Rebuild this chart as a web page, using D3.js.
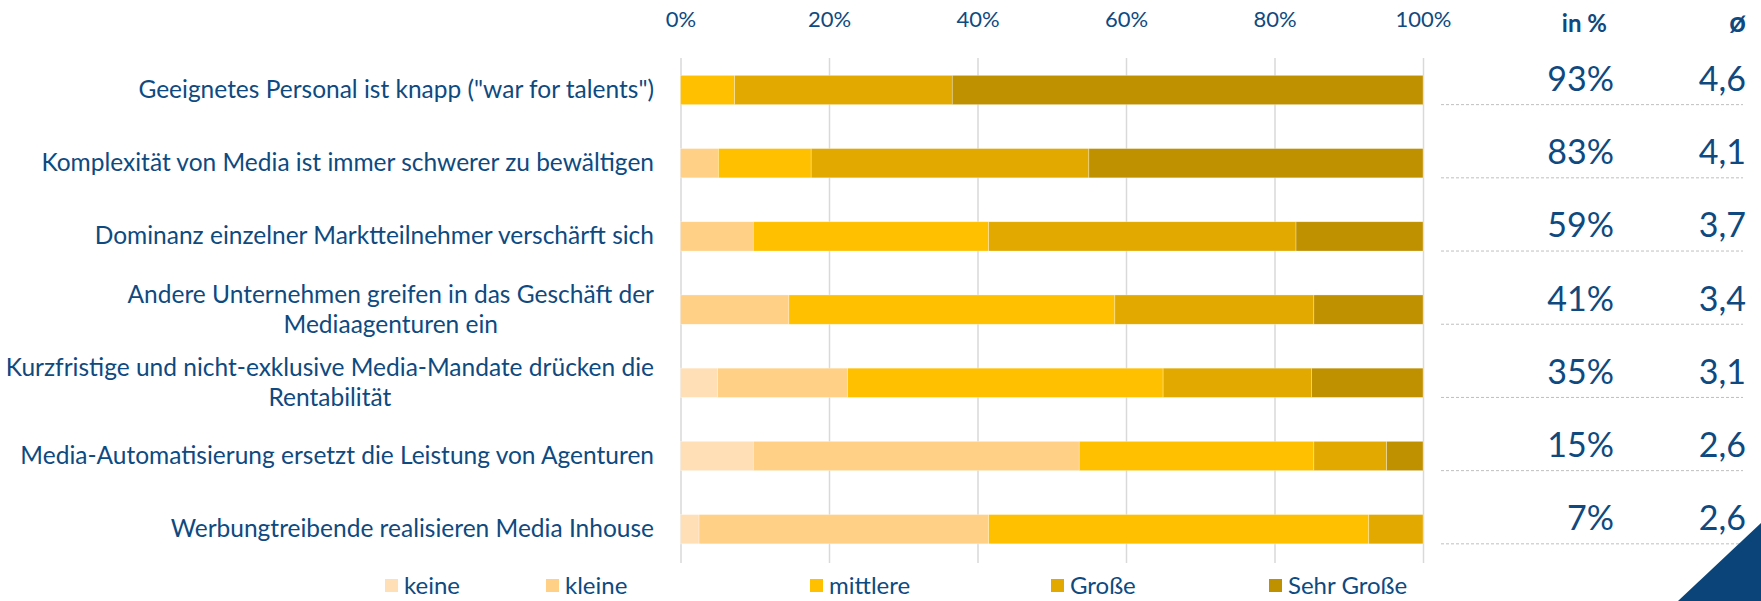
<!DOCTYPE html>
<html>
<head>
<meta charset="utf-8">
<script src="https://cdn.jsdelivr.net/npm/d3@7"></script>
<style>
  body { margin: 0; background: #fff; }
  svg { display: block; font-family: Lato, "Open Sans", sans-serif; }
</style>
</head>
<body>
<svg id="chart" width="1761" height="601"></svg>
<script>
var categories = [
  'Geeignetes Personal ist knapp ("war for talents")',
  "Komplexität von Media ist immer schwerer zu bewältigen",
  "Dominanz einzelner Marktteilnehmer verschärft sich",
  "Andere Unternehmen greifen in das Geschäft der|Mediaagenturen ein",
  "Kurzfristige und nicht-exklusive Media-Mandate drücken die|Rentabilität",
  "Media-Automatisierung ersetzt die Leistung von Agenturen",
  "Werbungtreibende realisieren Media Inhouse"
];

var seriesNames = ["keine", "kleine", "mittlere", "Große", "Sehr Große"];

// share of answers in % per category
var keine      = [0,    0,    0,    0,    5.0,  9.8,  2.5];
var kleine     = [0,    5.1,  9.8,  14.6, 17.5, 43.9, 39.0];
var mittlere   = [7.3,  12.5, 31.7, 43.9, 42.5, 31.6, 51.2];
var grosse     = [29.3, 37.4, 41.4, 26.8, 20.0, 9.8,  7.3];
var sehrGrosse = [63.4, 45.0, 17.1, 14.7, 15.0, 4.9,  0];

var topTwo  = [93, 83, 59, 41, 35, 15, 7];
var average = [4.6, 4.1, 3.7, 3.4, 3.1, 2.6, 2.6];

var xTicks = [0, 20, 40, 60, 80, 100];

var colors = ["#FFDFB5", "#FFD085", "#FFC000", "#E2AA00", "#BF9000"];
var textColor = "#0E4A80";

var svg = d3.select("#chart");

var data = categories.map(function (c, i) {
  return {
    cat: c,
    "keine": keine[i],
    "kleine": kleine[i],
    "mittlere": mittlere[i],
    "Große": grosse[i],
    "Sehr Große": sehrGrosse[i]
  };
});

var gridTop = 58, gridBottom = 563;

var x = d3.scaleLinear().domain([0, 100]).range([680.5, 1423]);
var y = d3.scaleBand().domain(categories).range([53.4, 565.8])
  .paddingInner(0.6).paddingOuter(0.3);
var z = d3.scaleOrdinal().domain(seriesNames).range(colors);

// axis + gridlines
var ax = svg.append("g")
  .attr("transform", "translate(0," + gridTop + ")")
  .call(d3.axisTop(x).tickValues(xTicks)
    .tickFormat(function (d) { return d + "%"; })
    .tickSize(-(gridBottom - gridTop))
    .tickPadding(31));
ax.select(".domain").remove();
ax.selectAll("line").attr("stroke", "#D9D9D9").attr("stroke-width", 1.5);
ax.selectAll("text")
  .attr("fill", textColor)
  .style("font-size", "22px")
  .style("font-family", "Lato, sans-serif");

// stacked bars
svg.append("g")
  .selectAll("g")
  .data(d3.stack().keys(seriesNames)(data))
  .enter()
  .append("g")
  .attr("fill", function (d) { return z(d.key); })
  .selectAll("rect")
  .data(function (d) { return d; })
  .enter()
  .append("rect")
  .attr("x", function (d) { return x(d[0]); })
  .attr("y", function (d) { return y(d.data.cat); })
  .attr("width", function (d) { return Math.max(0, x(d[1]) - x(d[0])); })
  .attr("height", y.bandwidth())
  .attr("stroke", "rgba(255,255,255,0.5)")
  .attr("stroke-width", 0.6);

// category labels (multi-line centered as a block, block right aligned)
var labelRight = 654;
var labels = svg.append("g")
  .attr("fill", textColor)
  .style("font-size", "24.5px");

categories.forEach(function (c) {
  var lines = c.split("|");
  var cy = y(c) + y.bandwidth() / 2;
  var t = labels.append("text").attr("text-anchor", "middle");
  lines.forEach(function (l, j) {
    t.append("tspan")
      .attr("y", cy + 8 + (j - (lines.length - 1) / 2) * 30)
      .text(l);
  });
  var w = 0;
  t.selectAll("tspan").each(function () {
    w = Math.max(w, this.getComputedTextLength());
  });
  t.selectAll("tspan").attr("x", labelRight - w / 2);
});

// right columns
var pctRight = 1614, avgRight = 1746;
var right = svg.append("g").attr("fill", textColor);

right.append("text")
  .attr("x", 1607).attr("y", 32)
  .attr("text-anchor", "end")
  .attr("font-weight", "bold")
  .style("font-size", "24px")
  .text("in %");
right.append("text")
  .attr("x", avgRight).attr("y", 32)
  .attr("text-anchor", "end")
  .attr("font-weight", "bold")
  .style("font-size", "29px")
  .text("ø");

var rows = right.selectAll("g.row")
  .data(categories)
  .enter()
  .append("g")
  .attr("class", "row");

rows.append("text")
  .attr("x", pctRight)
  .attr("y", function (d) { return y(d) + y.bandwidth() / 2 + 1; })
  .attr("text-anchor", "end")
  .style("font-size", "34px")
  .text(function (d, i) { return topTwo[i] + "%"; });

rows.append("text")
  .attr("x", avgRight)
  .attr("y", function (d) { return y(d) + y.bandwidth() / 2 + 1; })
  .attr("text-anchor", "end")
  .style("font-size", "34px")
  .text(function (d, i) { return d3.format(".1f")(average[i]).replace(".", ","); });

rows.append("line")
  .attr("x1", 1441).attr("x2", 1743)
  .attr("y1", function (d) { return y(d) + y.bandwidth(); })
  .attr("y2", function (d) { return y(d) + y.bandwidth(); })
  .attr("stroke", "#BFBFBF")
  .attr("stroke-width", 1)
  .attr("stroke-dasharray", "3,2");

// legend
var legendX = [385, 546, 810, 1051, 1269];
var legend = svg.append("g")
  .selectAll("g")
  .data(seriesNames)
  .enter()
  .append("g")
  .attr("transform", function (d, i) { return "translate(" + legendX[i] + ",586)"; });

legend.append("rect")
  .attr("x", 0).attr("y", -7)
  .attr("width", 13).attr("height", 13)
  .attr("fill", z);

legend.append("text")
  .attr("x", 19).attr("y", 8)
  .attr("fill", textColor)
  .style("font-size", "24px")
  .text(function (d) { return d; });

// corner decoration
svg.append("path")
  .attr("d", "M1678,601L1761,523L1761,601Z")
  .attr("fill", "#0A4478");
</script>
</body>
</html>
